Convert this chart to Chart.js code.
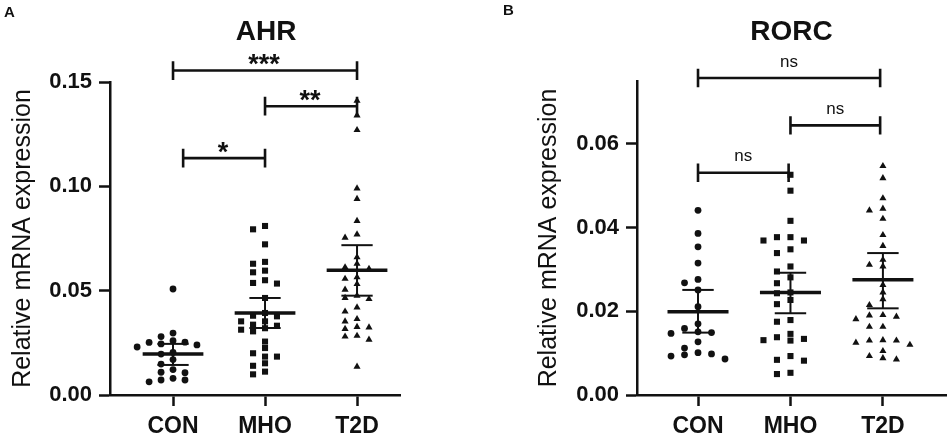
<!DOCTYPE html>
<html>
<head>
<meta charset="utf-8">
<script src="https://cdn.jsdelivr.net/npm/chart.js@4.4.1/dist/chart.umd.min.js"></script>
<style>
  html, body { margin: 0; padding: 0; background: #fff; }
  #wrap { position: relative; width: 951px; height: 437px; }
  .panel { position: absolute; top: 0; width: 475px; height: 437px; }
  #panelA { left: 0; }
  #panelB { left: 476px; }
</style>
</head>
<body>
<div id="wrap">
  <div class="panel" id="panelA"><canvas id="ahrChart"></canvas></div>
  <div class="panel" id="panelB"><canvas id="rorcChart"></canvas></div>
</div>
<script>
const groups = ['CON', 'MHO', 'T2D'];

// AHR panel
const ahrCon = [0.0508, 0.0297, 0.028, 0.026, 0.0253, 0.0252, 0.0245, 0.024, 0.023, 0.0204,
  0.0196, 0.017, 0.0148, 0.0122, 0.0109, 0.0107, 0.008, 0.0072, 0.0072, 0.0063];
const ahrMho = [0.081, 0.0794, 0.0722, 0.0638, 0.0629, 0.0596, 0.0588, 0.055, 0.0537, 0.0534,
  0.0465, 0.0393, 0.038, 0.0377, 0.0353, 0.0353, 0.0337, 0.0332, 0.032, 0.0313,
  0.0305, 0.0256, 0.0225, 0.0200, 0.0184, 0.0184, 0.0152, 0.0140, 0.0112, 0.0099];
const ahrT2d = [0.141, 0.134, 0.127, 0.099, 0.094, 0.0834, 0.077, 0.0754, 0.066, 0.0629,
  0.0612, 0.0605, 0.0564, 0.0557, 0.0532, 0.0505, 0.0476, 0.0465, 0.046, 0.042,
  0.040, 0.0364, 0.0353, 0.0326, 0.0324, 0.0317, 0.0284, 0.028, 0.0265, 0.0136];
const ahrMean = [0.0196, 0.0393, 0.0598];
const ahrSemHi = [0.0245, 0.0465, 0.0718];
const ahrSemLo = [0.0144, 0.0321, 0.0476];
const ahrTicks = [0, 0.05, 0.10, 0.15];
const ahrSigFrom = [1, 2, 1.11];
const ahrSigTo = [3, 3, 2];
const ahrSigY = [0.1555, 0.1384, 0.1135];
const ahrSigText = ['***', '**', '*'];

// RORC panel
const rorcCon = [0.0441, 0.0386, 0.0354, 0.0315, 0.0276, 0.0268, 0.0251, 0.0211, 0.0170, 0.0159,
  0.0151, 0.0149, 0.0147, 0.0127, 0.0112, 0.0101, 0.0098, 0.0096, 0.0093, 0.0086];
const rorcMho = [0.0526, 0.0488, 0.0416, 0.0377, 0.0377, 0.0369, 0.0369, 0.0348, 0.0339, 0.0307,
  0.0295, 0.0281, 0.0267, 0.0245, 0.0243, 0.0227, 0.0217, 0.0179, 0.0175, 0.0146,
  0.0138, 0.0134, 0.0131, 0.0130, 0.0093, 0.0084, 0.0082, 0.0053, 0.0050];
const rorcT2d = [0.0547, 0.0518, 0.0470, 0.0445, 0.0441, 0.0421, 0.0382, 0.0356, 0.0323, 0.0311,
  0.0307, 0.0263, 0.0245, 0.0229, 0.0215, 0.0191, 0.0190, 0.0187, 0.0181, 0.0163,
  0.0163, 0.0131, 0.0130, 0.0130, 0.0125, 0.0120, 0.0105, 0.0093, 0.0088, 0.0085];
const rorcMean = [0.0199, 0.0245, 0.0275];
const rorcSemHi = [0.0251, 0.0292, 0.0339];
const rorcSemLo = [0.0149, 0.0195, 0.0207];
const rorcTicks = [0, 0.02, 0.04, 0.06];
const rorcSigFrom = [1, 2, 1];
const rorcSigTo = [2.97, 2.97, 1.98];
const rorcSigY = [0.0757, 0.0644, 0.0531];
const rorcSigText = ['ns', 'ns', 'ns'];

const INK = '#111';
const FONT = '"Liberation Sans", Arial, sans-serif';

// column beeswarm: biggest values first, fill centre column, then alternate sides
function swarm(values, center, step, gap) {
  const placed = [];
  const pts = [];
  const order = values.map((v, i) => i).sort((a, b) => values[b] - values[a]);
  order.forEach(i => {
    const v = values[i];
    for (let k = 0; k < 30; k++) {
      const col = k === 0 ? 0 : (k % 2 ? -Math.ceil(k / 2) : Math.ceil(k / 2));
      const clash = placed.some(p => p.col === col && Math.abs(p.v - v) < gap);
      if (!clash) {
        placed.push({ col, v });
        pts.push({ x: center + col * step, y: v });
        break;
      }
    }
  });
  return pts;
}

function lineSet(points, width) {
  return {
    type: 'line',
    data: points,
    borderColor: INK,
    borderWidth: width,
    pointRadius: 0,
    fill: false,
    tension: 0,
    clip: false,
    order: 1,
    borderCapStyle: 'butt',
    borderJoinStyle: 'miter'
  };
}

function makePanel(canvasId, cfg) {
  const datasets = [];
  const styles = ['circle', 'rect', 'triangle'];
  const radii = [3.4, 4.3, 4.1];

  cfg.series.forEach((vals, i) => {
    datasets.push({
      type: 'scatter',
      data: swarm(vals, i + 1, cfg.colStep, cfg.gap),
      pointStyle: styles[i],
      pointRadius: radii[i],
      pointBackgroundColor: INK,
      pointBorderWidth: 0,
      clip: false,
      order: 2
    });
  });

  // mean + SEM
  cfg.mean.forEach((m, i) => {
    const c = i + 1;
    datasets.push(lineSet([{ x: c - 0.33, y: m }, { x: c + 0.33, y: m }], 3.5));
    datasets.push(lineSet([{ x: c, y: cfg.lo[i] }, { x: c, y: cfg.hi[i] }], 2));
    datasets.push(lineSet([{ x: c - 0.17, y: cfg.hi[i] }, { x: c + 0.17, y: cfg.hi[i] }], 2));
    datasets.push(lineSet([{ x: c - 0.17, y: cfg.lo[i] }, { x: c + 0.17, y: cfg.lo[i] }], 2));
  });

  // significance brackets
  const h = cfg.bracketTick;
  cfg.sigFrom.forEach((x1, i) => {
    const x2 = cfg.sigTo[i];
    const y = cfg.sigY[i];
    datasets.push(lineSet([
      { x: x1, y: y + h }, { x: x1, y: y - h }, { x: x1, y: y },
      { x: x2, y: y }, { x: x2, y: y + h }, { x: x2, y: y - h }
    ], 2.6));
  });

  const textPlugin = {
    id: 'panelText',
    afterDraw(chart) {
      const { ctx } = chart;
      const xs = chart.scales.x;
      const ys = chart.scales.y;
      ctx.save();
      ctx.fillStyle = INK;
      ctx.textAlign = 'left';
      ctx.textBaseline = 'alphabetic';
      ctx.font = 'bold 15px ' + FONT;
      ctx.fillText(cfg.letter, cfg.letterX, cfg.letterY);

      ctx.textAlign = 'center';
      ctx.font = 'bold 28px ' + FONT;
      ctx.fillText(cfg.title, xs.getPixelForValue(2) + 1, 40);

      cfg.sigText.forEach((t, i) => {
        const mx = xs.getPixelForValue((cfg.sigFrom[i] + cfg.sigTo[i]) / 2);
        const ly = ys.getPixelForValue(cfg.sigY[i]);
        if (t.startsWith('*')) {
          ctx.font = 'bold 27px ' + FONT;
          ctx.fillText(t, mx - 1, ly + 2.5);
        } else {
          ctx.font = '17px ' + FONT;
          ctx.fillText(t, mx, ly - 11.5);
        }
      });
      ctx.restore();
    }
  };

  return new Chart(document.getElementById(canvasId), {
    data: { datasets },
    plugins: [textPlugin],
    options: {
      responsive: true,
      maintainAspectRatio: false,
      animation: false,
      events: [],
      layout: { padding: { left: cfg.padLeft, right: cfg.padRight, top: cfg.padTop, bottom: 0 } },
      plugins: { legend: { display: false }, tooltip: { enabled: false }, title: { display: false } },
      scales: {
        x: {
          type: 'linear',
          min: cfg.xMin,
          max: cfg.xMax,
          border: { color: INK, width: 2.5 },
          grid: { drawOnChartArea: false, drawTicks: true, tickLength: 11, tickWidth: 2.5, tickColor: INK },
          afterBuildTicks: s => { s.ticks = groups.map((g, i) => ({ value: i + 1 })); },
          afterFit: s => { s.height = 42; },
          ticks: {
            autoSkip: false,
            maxRotation: 0,
            padding: 7,
            color: INK,
            font: { family: FONT, size: 23, weight: 'bold' },
            callback: v => groups[v - 1]
          }
        },
        y: {
          type: 'linear',
          min: 0,
          max: cfg.yMax,
          border: { color: INK, width: 2.5 },
          grid: { drawOnChartArea: false, drawTicks: true, tickLength: 11, tickWidth: 2.5, tickColor: INK },
          afterBuildTicks: s => { s.ticks = cfg.ticks.map(v => ({ value: v })); },
          afterFit: s => { s.width = cfg.axisWidth; },
          ticks: {
            padding: 7,
            color: INK,
            font: { family: FONT, size: 22, weight: 'bold' },
            callback: v => v.toFixed(2)
          },
          title: {
            display: true,
            text: 'Relative mRNA expression',
            color: INK,
            padding: { top: 8, bottom: 0 },
            font: { family: FONT, size: 25, weight: 'normal' }
          }
        }
      }
    }
  });
}

makePanel('ahrChart', {
  letter: 'A', letterX: 4, letterY: 17, title: 'AHR',
  series: [ahrCon, ahrMho, ahrT2d],
  mean: ahrMean, hi: ahrSemHi, lo: ahrSemLo,
  ticks: ahrTicks, yMax: 0.15,
  sigFrom: ahrSigFrom, sigTo: ahrSigTo, sigY: ahrSigY, sigText: ahrSigText,
  bracketTick: 0.0045,
  colStep: 0.13, gap: 0.0031,
  xMin: 0.315, xMax: 3.467,
  padLeft: 0, padRight: 75, padTop: 82, axisWidth: 110
});

makePanel('rorcChart', {
  letter: 'B', letterX: 27, letterY: 15, title: 'RORC',
  series: [rorcCon, rorcMho, rorcT2d],
  mean: rorcMean, hi: rorcSemHi, lo: rorcSemLo,
  ticks: rorcTicks, yMax: 0.075,
  sigFrom: rorcSigFrom, sigTo: rorcSigTo, sigY: rorcSigY, sigText: rorcSigText,
  bracketTick: 0.0022,
  colStep: 0.146, gap: 0.00155,
  xMin: 0.34, xMax: 3.69,
  padLeft: 50, padRight: 4, padTop: 81, axisWidth: 111
});
</script>
</body>
</html>
